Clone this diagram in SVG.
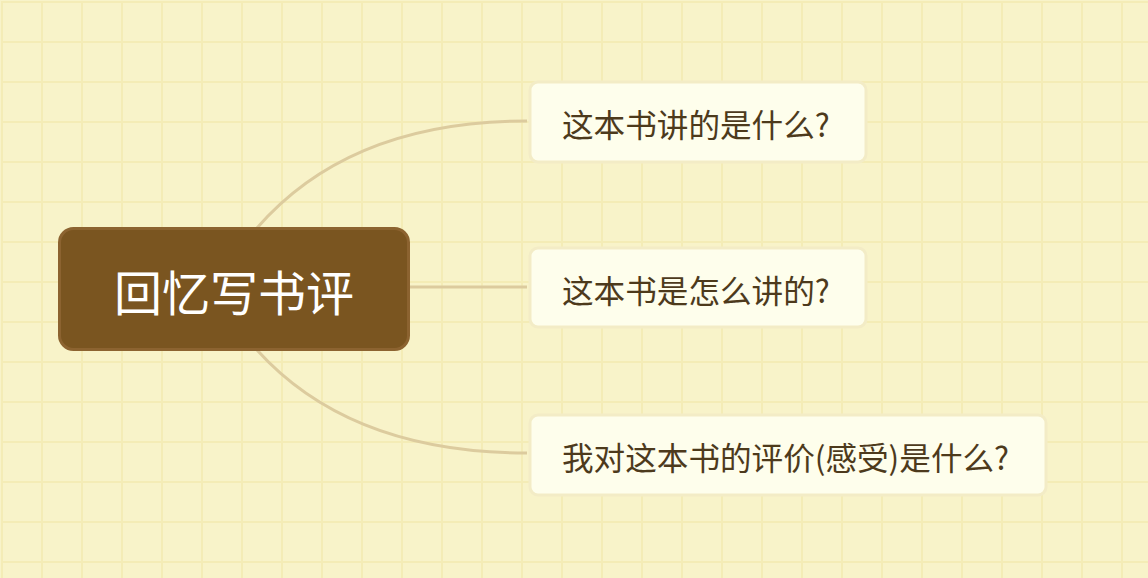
<svg xmlns="http://www.w3.org/2000/svg" width="1148" height="578" viewBox="0 0 1148 578">
<defs>
<pattern id="grid" x="0" y="0" width="40" height="40" patternUnits="userSpaceOnUse">
<rect width="40" height="40" fill="#f8f3c9"/>
<rect x="0" y="0" width="2" height="40" fill="#f4ecb6"/>
<rect x="0" y="0" width="40" height="2" fill="#f4ecb6"/>
</pattern>
<style>
.conn{fill:none;stroke:#dccb9e;stroke-width:3;stroke-linecap:butt}
.child rect{fill:#fefeec;stroke:#f3ecc6;stroke-width:3}
.child text{font-family:"Noto Sans CJK SC","Noto Sans",sans-serif;font-size:31.6px;fill:#4d3a1c;dominant-baseline:central}
.root rect{fill:#7a5520;stroke:#8c6330;stroke-width:3}
.root text{font-family:"Noto Sans CJK SC","Noto Sans",sans-serif;font-size:48px;fill:#ffffff;dominant-baseline:central;text-anchor:middle}
</style>
</defs>
<rect x="0" y="0" width="1148" height="578" fill="url(#grid)" transform="translate(1,1)"/>
<rect x="0" y="0" width="1" height="578" fill="#f8f3c9"/>
<rect x="0" y="0" width="1148" height="1" fill="#f8f3c9"/>
<g id="connectors">
<path class="conn" d="M257,228 Q350,121 527,121"/>
<path class="conn" d="M409,287 L527,287"/>
<path class="conn" d="M257,350 Q350,453 527,453"/>
</g>
<g id="root" class="root">
<rect x="59.5" y="228.5" width="349" height="121" rx="14" ry="14"/>
<text x="234" y="290">回忆写书评</text>
</g>
<g id="node1" class="child">
<rect x="530" y="82" width="336" height="80" rx="8" ry="8"/>
<text x="562" y="123">这本书讲的是什么?</text>
</g>
<g id="node2" class="child">
<rect x="530" y="248" width="336" height="79" rx="8" ry="8"/>
<text x="562" y="289">这本书是怎么讲的?</text>
</g>
<g id="node3" class="child">
<rect x="530" y="415" width="516" height="80" rx="8" ry="8"/>
<text x="562" y="456">我对这本书的评价(感受)是什么?</text>
</g>
</svg>
